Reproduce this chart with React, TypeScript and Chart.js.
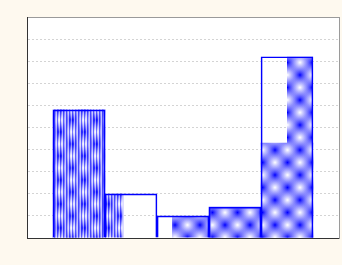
import React, { useEffect, useRef } from "react";
import { Chart, registerables } from "chart.js";

Chart.register(...registerables);

// Histogram bins (centres on a 0..6 axis) and their heights
const binCenters = [1, 2, 3, 4, 5];
const binHeights = [5.8, 2.0, 1.0, 1.4, 8.2];

// Striped pattern pieces: centre, low, high, fraction of bin width
const stripeX = [1, 1.675];
const stripeLow = [0, 0];
const stripeHigh = [5.8, 2.0];
const stripeFrac = [1, 0.35];

// Dotted pattern pieces
const dotX = [3.145, 4, 5, 5.25];
const dotLow = [0, 0, 0, 4.3];
const dotHigh = [1.0, 1.4, 4.3, 8.2];
const dotFrac = [0.71, 1, 1, 0.5];

const X_MIN = 0;
const X_MAX = 6;
const Y_MIN = 0;
const Y_MAX = 10;

function makePattern(size: number, stripes: boolean): CanvasPattern | string {
  const c = document.createElement("canvas");
  c.width = size;
  c.height = size;
  const g = c.getContext("2d");
  if (!g) return "#8080ff";
  g.fillStyle = "#8080ff";
  g.fillRect(0, 0, size, size);
  const h = size / 2;
  const r = size * 0.5;
  const spot = (x: number, y: number, col: string) => {
    const rg = g.createRadialGradient(x, y, 0, x, y, r);
    rg.addColorStop(0, col);
    rg.addColorStop(1, "rgba(128,128,255,0)");
    g.fillStyle = rg;
    g.fillRect(0, 0, size, size);
  };
  [[0, 0], [size, 0], [0, size], [size, size], [h, h]].forEach(([x, y]) => spot(x, y, "rgba(0,0,255,1)"));
  [[h, 0], [h, size], [0, h], [size, h]].forEach(([x, y]) => spot(x, y, "rgba(255,255,255,1)"));
  if (stripes) {
    for (let x = 0; x < size; x++) {
      if (x % 3 === 0) {
        g.fillStyle = "rgba(0,0,255,0.5)";
        g.fillRect(x, 0, 1, size);
      } else if (x % 3 === 2) {
        g.fillStyle = "rgba(255,255,255,0.5)";
        g.fillRect(x, 0, 1, size);
      }
    }
  }
  const p = g.createPattern(c, "repeat");
  return p || "#8080ff";
}

const plotBg = {
  id: "plotBg",
  beforeDraw(chart: any) {
    const { ctx, chartArea } = chart;
    ctx.save();
    ctx.fillStyle = "#ffffff";
    ctx.fillRect(chartArea.left, chartArea.top, chartArea.right - chartArea.left, chartArea.bottom - chartArea.top);
    ctx.restore();
  },
};

export default function App() {
  const ref = useRef<HTMLCanvasElement | null>(null);

  useEffect(() => {
    if (!ref.current) return;
    const stripePat = makePattern(24, true);
    const dotPat = makePattern(25, false);

    const scales: any = {
      x: {
        type: "linear",
        position: "bottom",
        offset: false,
        min: X_MIN,
        max: X_MAX,
        ticks: { display: false, stepSize: 1 },
        grid: { display: false, drawTicks: false },
        border: { display: true, color: "#333333", width: 1 },
      },
      xTop: {
        type: "linear",
        position: "top",
        offset: false,
        min: X_MIN,
        max: X_MAX,
        ticks: { display: false },
        grid: { display: false, drawTicks: false },
        border: { display: true, color: "#9a9a9a", width: 1 },
      },
      y: {
        type: "linear",
        position: "left",
        min: Y_MIN,
        max: Y_MAX,
        ticks: { display: false, stepSize: 1 },
        grid: { color: "#d4d4d4", drawTicks: false, lineWidth: 1 },
        border: { display: true, color: "#333333", width: 1, dash: [2, 2] },
      },
      yRight: {
        type: "linear",
        position: "right",
        min: Y_MIN,
        max: Y_MAX,
        ticks: { display: false },
        grid: { display: false, drawTicks: false },
        border: { display: true, color: "#9a9a9a", width: 1 },
      },
    };

    const datasets: any[] = [
      {
        type: "bar",
        label: "outline",
        data: binCenters.map((x, i) => ({ x, y: binHeights[i] })),
        backgroundColor: "rgba(0,0,0,0)",
        borderColor: "#0000ff",
        borderWidth: 1,
        borderSkipped: "start",
        grouped: false,
        categoryPercentage: 1,
        barPercentage: 1,
        xAxisID: "x",
        yAxisID: "y",
      },
    ];

    const addPieces = (
      xs: number[],
      lo: number[],
      hi: number[],
      fr: number[],
      pat: any,
      prefix: string
    ) => {
      xs.forEach((x, i) => {
        const id = `${prefix}${i}`;
        scales[id] = {
          type: "linear",
          display: false,
          offset: false,
          min: X_MIN,
          max: X_MAX,
          ticks: { stepSize: 1 },
          grid: { drawTicks: false },
        };
        datasets.push({
          type: "bar",
          label: id,
          data: [{ x, y: [lo[i], hi[i]] }],
          backgroundColor: pat,
          borderWidth: 0,
          grouped: false,
          categoryPercentage: 1,
          barPercentage: fr[i],
          xAxisID: id,
          yAxisID: "y",
        });
      });
    };
    addPieces(stripeX, stripeLow, stripeHigh, stripeFrac, stripePat, "ps");
    addPieces(dotX, dotLow, dotHigh, dotFrac, dotPat, "pd");

    const chart = new Chart(ref.current, {
      type: "bar",
      data: { datasets },
      options: {
        responsive: false,
        animation: false,
        devicePixelRatio: 1,
        layout: { padding: { left: 27, top: 17, right: 3, bottom: 27 } },
        plugins: { legend: { display: false }, tooltip: { enabled: false } },
        scales,
      },
      plugins: [plotBg],
    } as any);
    return () => chart.destroy();
  }, []);

  return (
    <div
      style={{
        position: "fixed",
        left: 0,
        top: 0,
        width: 342,
        height: 265,
        background: "#fef9ef",
      }}
    >
      <canvas ref={ref} width={342} height={265} style={{ display: "block" }} />
    </div>
  );
}
